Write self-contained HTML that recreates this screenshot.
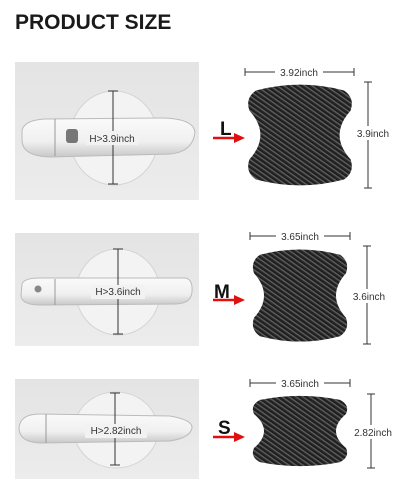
<!DOCTYPE html>
<html><head><meta charset="utf-8"><style>
html,body{margin:0;padding:0;background:#fff;width:400px;height:500px;overflow:hidden}
svg{display:block}
text{font-family:"Liberation Sans",sans-serif}
</style></head><body>
<svg width="400" height="500" viewBox="0 0 400 500">
<defs>
  <pattern id="carbon" width="4" height="4" patternUnits="userSpaceOnUse" patternTransform="rotate(-55)">
    <rect width="4" height="4" fill="#262626"/>
    <rect width="1.6" height="4" fill="#5a5a5a"/>
    <rect x="1.6" width="0.7" height="4" fill="#111"/>
  </pattern>
  <linearGradient id="bg" x1="0" y1="0" x2="0" y2="1">
    <stop offset="0" stop-color="#e4e4e4"/><stop offset="1" stop-color="#ececec"/>
  </linearGradient>
  <linearGradient id="handle" x1="0" y1="0" x2="0" y2="1">
    <stop offset="0" stop-color="#fafafa"/><stop offset="0.6" stop-color="#f0f0f0"/><stop offset="1" stop-color="#c8c8c8"/>
  </linearGradient>
</defs>
<text x="15" y="29" font-size="21" font-weight="bold" fill="#1a1a1a">PRODUCT SIZE</text>

<!-- Panel L -->
<g>
  <rect x="15" y="62" width="184" height="138" fill="url(#bg)"/>
  <ellipse cx="114" cy="138" rx="44" ry="47" fill="#f3f3f3" stroke="#d4d4d4"/>
  <path d="M22,130 Q25,120 45,119 L160,118 Q193,118 195,132 Q193,152 170,154 L50,157 Q22,156 22,140 Z" fill="url(#handle)" stroke="#bbb"/>
  <line x1="55" y1="119" x2="55" y2="156" stroke="#999"/>
  <rect x="66" y="129" width="12" height="14" rx="3" fill="#777"/>
  <line x1="113" y1="91" x2="113" y2="184" stroke="#333"/>
  <line x1="108" y1="91" x2="118" y2="91" stroke="#333"/>
  <line x1="108" y1="184" x2="118" y2="184" stroke="#333"/>
  <rect x="86" y="131" width="52" height="14" fill="#f2f2f2"/>
  <text x="112" y="142" font-size="10" text-anchor="middle" fill="#333">H&gt;3.9inch</text>
</g>
<g>
  <path class="stk" data-box="245,82,110,106" fill="url(#carbon)"/>
  <line x1="245" y1="72" x2="354" y2="72" stroke="#333"/><line x1="245" y1="68" x2="245" y2="76" stroke="#333"/><line x1="354" y1="68" x2="354" y2="76" stroke="#333"/>
  <rect x="275" y="66" width="48" height="12" fill="#fff"/>
  <text x="299" y="76" font-size="10" text-anchor="middle" fill="#333">3.92inch</text>
  <line x1="368" y1="82" x2="368" y2="188" stroke="#333"/><line x1="364" y1="82" x2="372" y2="82" stroke="#333"/><line x1="364" y1="188" x2="372" y2="188" stroke="#333"/>
  <rect x="350" y="126" width="46" height="14" fill="#fff"/>
  <text x="373" y="137" font-size="10" text-anchor="middle" fill="#333">3.9inch</text>
  <text x="220" y="135" font-size="19" font-weight="bold" fill="#111">L</text>
  <line x1="213" y1="138" x2="236" y2="138" stroke="#e01010" stroke-width="2.5"/><polygon points="234,133 245,138 234,143" fill="#e01010"/>
</g>

<!-- Panel M -->
<g>
  <rect x="15" y="233" width="184" height="113" fill="url(#bg)"/>
  <ellipse cx="118" cy="292" rx="42" ry="43" fill="#f3f3f3" stroke="#d4d4d4"/>
  <path d="M22,284 Q24,278 40,278 L185,278 Q193,279 192,292 Q191,304 175,304 L40,305 Q22,305 21,296 Z" fill="url(#handle)" stroke="#bbb"/>
  <line x1="55" y1="279" x2="55" y2="305" stroke="#999"/>
  <circle cx="38" cy="289" r="3.5" fill="#888"/>
  <line x1="118" y1="249" x2="118" y2="334" stroke="#333"/>
  <line x1="113" y1="249" x2="123" y2="249" stroke="#333"/>
  <line x1="113" y1="334" x2="123" y2="334" stroke="#333"/>
  <rect x="91" y="285" width="54" height="14" fill="#f2f2f2"/>
  <text x="118" y="295" font-size="10" text-anchor="middle" fill="#333">H&gt;3.6inch</text>
</g>
<g>
  <path class="stk" data-box="250,247,100,97" fill="url(#carbon)"/>
  <line x1="250" y1="236" x2="350" y2="236" stroke="#333"/><line x1="250" y1="232" x2="250" y2="240" stroke="#333"/><line x1="350" y1="232" x2="350" y2="240" stroke="#333"/>
  <rect x="276" y="230" width="48" height="12" fill="#fff"/>
  <text x="300" y="240" font-size="10" text-anchor="middle" fill="#333">3.65inch</text>
  <line x1="367" y1="246" x2="367" y2="344" stroke="#333"/><line x1="363" y1="246" x2="371" y2="246" stroke="#333"/><line x1="363" y1="344" x2="371" y2="344" stroke="#333"/>
  <rect x="349" y="289" width="42" height="14" fill="#fff"/>
  <text x="369" y="300" font-size="10" text-anchor="middle" fill="#333">3.6inch</text>
  <text x="214" y="298" font-size="19" font-weight="bold" fill="#111">M</text>
  <line x1="213" y1="300" x2="236" y2="300" stroke="#e01010" stroke-width="2.5"/><polygon points="234,295 245,300 234,305" fill="#e01010"/>
</g>

<!-- Panel S -->
<g>
  <rect x="15" y="379" width="184" height="100" fill="url(#bg)"/>
  <ellipse cx="116" cy="430" rx="42" ry="38" fill="#f3f3f3" stroke="#d4d4d4"/>
  <path d="M19,428 Q20,414 40,414 L170,416 Q193,420 192,428 Q190,438 170,441 L40,443 Q19,442 19,428 Z" fill="url(#handle)" stroke="#bbb"/>
  <line x1="46" y1="414" x2="46" y2="443" stroke="#999"/>
  <line x1="115" y1="393" x2="115" y2="465" stroke="#333"/>
  <line x1="110" y1="393" x2="120" y2="393" stroke="#333"/>
  <line x1="110" y1="465" x2="120" y2="465" stroke="#333"/>
  <rect x="85" y="424" width="62" height="14" fill="#f2f2f2"/>
  <text x="116" y="434" font-size="10" text-anchor="middle" fill="#333">H&gt;2.82inch</text>
</g>
<g>
  <path class="stk" data-box="250,394,100,74" fill="url(#carbon)"/>
  <line x1="250" y1="383" x2="350" y2="383" stroke="#333"/><line x1="250" y1="379" x2="250" y2="387" stroke="#333"/><line x1="350" y1="379" x2="350" y2="387" stroke="#333"/>
  <rect x="276" y="377" width="48" height="12" fill="#fff"/>
  <text x="300" y="387" font-size="10" text-anchor="middle" fill="#333">3.65inch</text>
  <line x1="371" y1="394" x2="371" y2="468" stroke="#333"/><line x1="367" y1="394" x2="375" y2="394" stroke="#333"/><line x1="367" y1="468" x2="375" y2="468" stroke="#333"/>
  <rect x="350" y="425" width="48" height="14" fill="#fff"/>
  <text x="373" y="436" font-size="10" text-anchor="middle" fill="#333">2.82inch</text>
  <text x="218" y="434" font-size="19" font-weight="bold" fill="#111">S</text>
  <line x1="213" y1="437" x2="236" y2="437" stroke="#e01010" stroke-width="2.5"/><polygon points="234,432 245,437 234,442" fill="#e01010"/>
</g>
</svg>
<script>
var shape=[["M",0.1,0.08],["Q",0.5,-0.03,0.9,0.08],["Q",1,0.15,0.96,0.27],["Q",0.76,0.5,0.96,0.73],["Q",1,0.85,0.9,0.92],["Q",0.5,1.03,0.1,0.92],["Q",0,0.85,0.04,0.73],["Q",0.24,0.5,0.04,0.27],["Q",0,0.15,0.1,0.08]];
document.querySelectorAll('.stk').forEach(function(p){
  var b=p.getAttribute('data-box').split(',').map(Number);
  var d='';
  shape.forEach(function(s){
    d+=s[0];
    for(var i=1;i<s.length;i+=2){d+=' '+(b[0]+s[i]*b[2]).toFixed(1)+','+(b[1]+s[i+1]*b[3]).toFixed(1)+' ';}
  });
  p.setAttribute('d',d+'Z');
  
  
});
</script>
</body></html>
